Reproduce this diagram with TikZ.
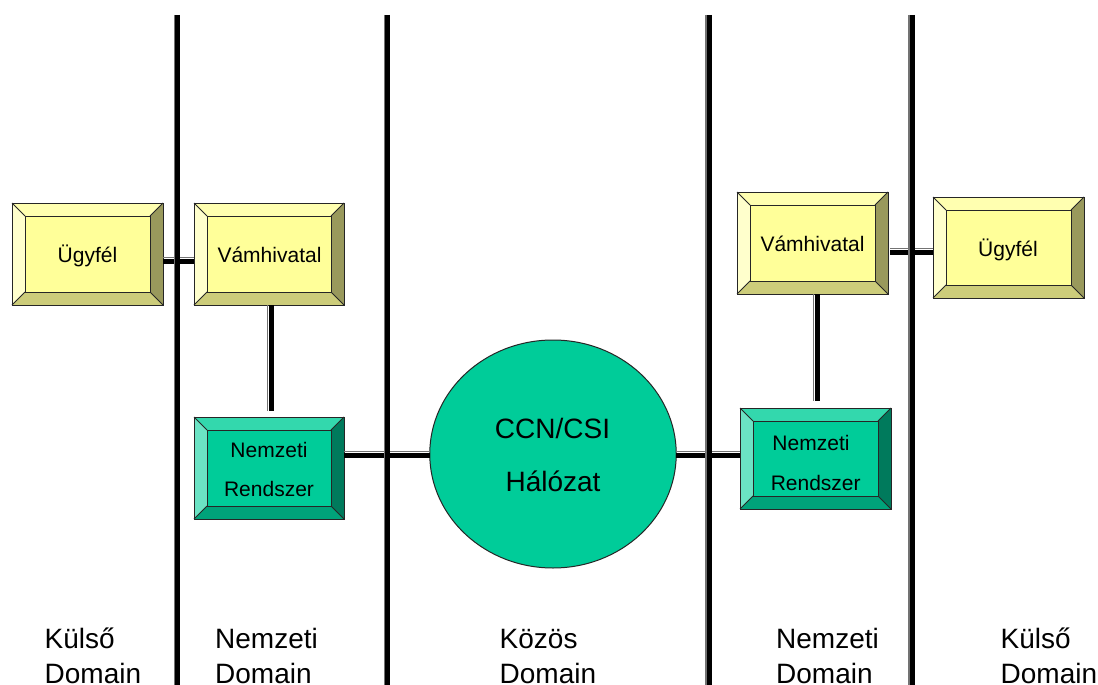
\documentclass[tikz,border=0pt]{standalone}
\usepackage{fontspec}
\setmainfont{Liberation Sans}
\usetikzlibrary{shapes.geometric}
\definecolor{yMain}{HTML}{FFFF99}
\definecolor{yTop}{HTML}{FFFFB0}
\definecolor{yLeft}{HTML}{FFFFCC}
\definecolor{yBot}{HTML}{CCCC7A}
\definecolor{yRight}{HTML}{99995C}
\definecolor{gMain}{HTML}{00CC99}
\definecolor{gTop}{HTML}{33D8AD}
\definecolor{gLeft}{HTML}{6BE3C4}
\definecolor{gBot}{HTML}{00A37A}
\definecolor{gRight}{HTML}{007A5C}
\tikzset{
  vconn/.style={draw=black,line width=5pt,preaction={draw=black!55,line width=1.2pt,transform canvas={xshift=-3.5pt}}},
  hconn/.style={draw=black,line width=5.5pt,preaction={draw=black!55,line width=1.2pt,transform canvas={yshift=3.7pt}}},
  boxtxt/.style={font=\fontsize{21}{21}\selectfont,anchor=base,inner sep=0pt,text=black},
  domtxt/.style={font=\fontsize{28}{28}\selectfont,anchor=base west,inner sep=0pt,text=black},
  bigtxt/.style={font=\fontsize{28}{28}\selectfont,anchor=base,inner sep=0pt,text=black},
  edge line/.style={draw=black!85,line width=1pt,line join=miter},
}
% name, x0, y0, x1, y1, colour prefix
\newcommand{\bevbox}[6]{%
  \path[fill=#6Main] (#2,#3) rectangle (#4,#5);
  \path[fill=#6Top]   (#2,#3) -- (#4,#3) -- ({#4-13},{#3+13}) -- ({#2+13},{#3+13}) -- cycle;
  \path[fill=#6Left]  (#2,#3) -- ({#2+13},{#3+13}) -- ({#2+13},{#5-13}) -- (#2,#5) -- cycle;
  \path[fill=#6Bot]   (#2,#5) -- ({#2+13},{#5-13}) -- ({#4-13},{#5-13}) -- (#4,#5) -- cycle;
  \path[fill=#6Right] (#4,#3) -- (#4,#5) -- ({#4-13},{#5-13}) -- ({#4-13},{#3+13}) -- cycle;
  \draw[edge line] ({#2+13},{#3+13}) rectangle ({#4-13},{#5-13});
  \draw[edge line] (#2,#3) -- ({#2+13},{#3+13}) (#4,#3) -- ({#4-13},{#3+13})
                   (#2,#5) -- ({#2+13},{#5-13}) (#4,#5) -- ({#4-13},{#5-13});
  \node[draw=black!85,line width=1pt,inner sep=0pt,outer sep=0pt,
        minimum width={(#4-#2)*1pt},minimum height={(#5-#3)*1pt}] (#1) at ({(#2+#4)/2},{(#3+#5)/2}) {};
}
\begin{document}
\begin{tikzpicture}[x=1pt,y=-1pt]
\useasboundingbox (0,0) rectangle (1098,685);
\fill[white] (0,0) rectangle (1098,685);

\coordinate (t1) at (177.6,15); \coordinate (b1) at (177.6,685);
\coordinate (t2) at (387.6,15); \coordinate (b2) at (387.6,685);
\coordinate (t3) at (709.5,15); \coordinate (b3) at (709.5,685);
\coordinate (t4) at (912.5,15); \coordinate (b4) at (912.5,685);

% boxes
\bevbox{ugL}{12}{203}{163}{305}{y}
\bevbox{vamL}{194}{203}{344}{305}{y}
\bevbox{nemL}{194}{417}{344}{519}{g}
\bevbox{vamR}{737}{192}{888}{294}{y}
\bevbox{ugR}{933}{197}{1084}{298}{y}
\bevbox{nemR}{740}{408}{891}{509}{g}
\node[ellipse,minimum width=246.5pt,minimum height=228pt,inner sep=0pt,outer sep=0pt,draw=black!85,line width=1pt,fill=gMain] (net) at (553,454) {};

% connectors
\draw[hconn] ([yshift=-7.5pt]ugL.east) -- ([yshift=-7.5pt]vamL.west);
\draw[hconn] ([xshift=2pt,yshift=-9.5pt]vamR.east) -- ([yshift=-5pt]ugR.west);
\draw[hconn] ([yshift=12.5pt]nemL.east) -- ([yshift=-1.5pt]net.west);
\draw[hconn] ([yshift=-1.5pt]net.east) -- ([yshift=3pt]nemR.west);
\draw[vconn] ([xshift=2pt]vamL.south) -- ([xshift=2pt,yshift=6pt]nemL.north);
\draw[vconn] ([xshift=4.5pt]vamR.south) -- ([xshift=1.5pt,yshift=7pt]nemR.north);

% domain separators
\draw[vconn] (t1) -- (b1);
\draw[vconn] (t2) -- (b2);
\draw[vconn] (t3) -- (b3);
\draw[vconn] (t4) -- (b4);

% labels
\node[boxtxt] (l1) at (87.5,262) {Ügyfél};
\node[boxtxt] (l2) at (269.5,262) {Vámhivatal};
\node[boxtxt] (l3) at (269,457) {Nemzeti};
\node[boxtxt] (l4) at (269,496) {Rendszer};
\node[boxtxt] (l5) at (812.5,251) {Vámhivatal};
\node[boxtxt] (l6) at (1008,256) {Ügyfél};
\node[boxtxt] (l7) at (811,450) {Nemzeti};
\node[boxtxt] (l8) at (815.7,490) {Rendszer};
\node[bigtxt] (l9) at (552.5,438) {CCN/CSI};
\node[bigtxt] (l10) at (553,491) {Hálózat};

\node[domtxt] (d1a) at (44.5,648) {Külső};
\node[domtxt] (d1b) at (44.5,683) {Domain};
\node[domtxt] (d2a) at (215,648) {Nemzeti};
\node[domtxt] (d2b) at (215,683) {Domain};
\node[domtxt] (d3a) at (499.5,648) {Közös};
\node[domtxt] (d3b) at (499.5,683) {Domain};
\node[domtxt] (d4a) at (776,648) {Nemzeti};
\node[domtxt] (d4b) at (776,683) {Domain};
\node[domtxt] (d5a) at (1000.5,648) {Külső};
\node[domtxt] (d5b) at (1000.5,683) {Domain};
\end{tikzpicture}
\end{document}
